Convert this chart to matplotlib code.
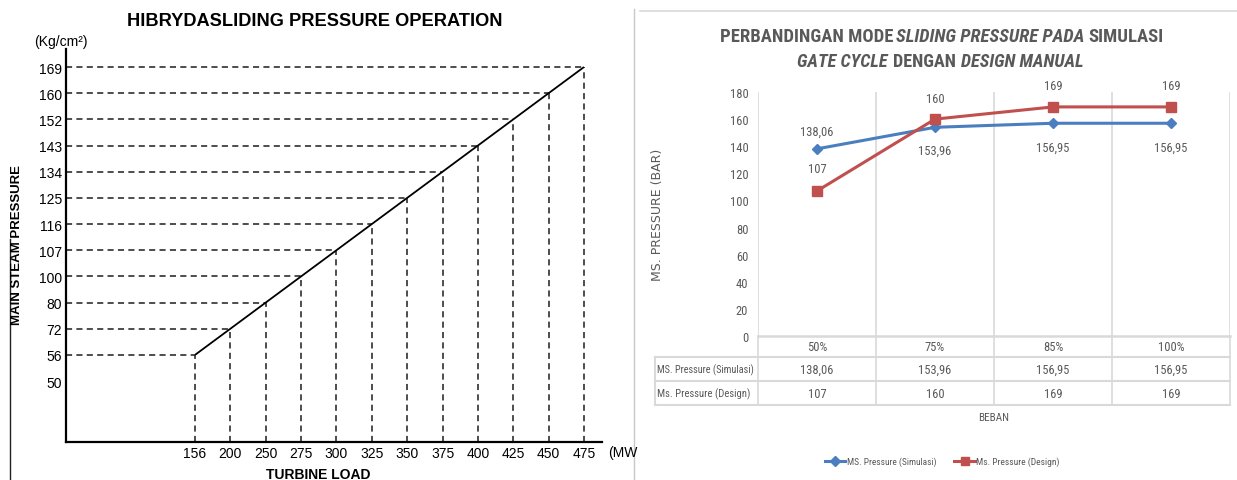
import matplotlib
matplotlib.use('Agg')
import matplotlib.pyplot as plt
from matplotlib import font_manager
from matplotlib.lines import Line2D

W, H = 1237, 481

# ---------------- data: left chart (scanned design curve) ----------------
load_ticks = [156, 200, 250, 275, 300, 325, 350, 375, 400, 425, 450, 475]
pressure_ticks = [50, 56, 72, 80, 100, 107, 116, 125, 134, 143, 152, 160, 169]
curve_load = [156, 200, 250, 275, 300, 325, 350, 375, 400, 425, 450, 475]
curve_pressure = [56, 72, 80, 100, 107, 116, 125, 134, 143, 152, 160, 169]

# ---------------- data: right chart (Excel comparison) ----------------
beban = ['50%', '75%', '85%', '100%']
ms_simulasi = [138.06, 153.96, 156.95, 156.95]
ms_design = [107, 160, 169, 169]
series_names = ['MS. Pressure (Simulasi)', 'Ms. Pressure (Design)']
y_ticks_right = [0, 20, 40, 60, 80, 100, 120, 140, 160, 180]

# ---------------- fonts ----------------
ttf = font_manager.fontManager.ttflist
names = {f.name for f in ttf}
LEFT_FONT = 'Liberation Sans' if 'Liberation Sans' in names else 'DejaVu Sans'

STRETCH_RANK = {'condensed': 0, 'extra-condensed': 1, 'semi-condensed': 2,
                'ultra-condensed': 3}
FAM_PREF = ['Liberation Sans Narrow', 'Roboto Condensed', 'Noto Sans', 'Open Sans',
            'DejaVu Sans']
cands = [f for f in ttf if f.stretch in STRETCH_RANK or 'narrow' in f.name.lower()
         or 'condensed' in f.name.lower()]
NARROW = dict(family='Liberation Sans')
if cands:
    cands.sort(key=lambda f: (FAM_PREF.index(f.name) if f.name in FAM_PREF else 99,
                              STRETCH_RANK.get(f.stretch, 0)))
    c = cands[0]
    NARROW = dict(family=c.name, stretch=c.stretch)

GRAY_TXT = '#595959'
GRID = '#d9d9d9'
BLUE = '#4a7ebf'
RED = '#c0504d'

fig = plt.figure(figsize=(W / 100, H / 100), dpi=100)
fig.patch.set_facecolor('white')
renderer = fig.canvas.get_renderer()


def px_axes(x0, y0, x1, y1, **kw):
    return fig.add_axes([x0 / W, 1 - y1 / H, (x1 - x0) / W, (y1 - y0) / H], **kw)


def fxy(x, y):
    return (x / W, 1 - y / H)


def fit_width(t, target, cap=None):
    w = t.get_window_extent(renderer).width
    size = t.get_fontsize() * target / w
    if cap is not None:
        size = min(size, cap)
    t.set_fontsize(size)


# =============== LEFT CHART ===============
axL = px_axes(66, 50, 602, 443)
x0L, x1L = -3.65, 11.51
y0L, y1L = -2.33, 12.69
axL.set_xlim(x0L, x1L)
axL.set_ylim(y0L, y1L)
xi = {v: i for i, v in enumerate(load_ticks)}
yi = {v: i for i, v in enumerate(pressure_ticks)}

for L, P in zip(curve_load, curve_pressure):
    x, y = xi[L], yi[P]
    axL.plot([x0L, x], [y, y], color='#1c1c1c', lw=1.1, dashes=(4, 2.8))
    axL.plot([x, x], [y0L, y], color='#1c1c1c', lw=1.1, dashes=(4, 2.8))
axL.plot([xi[l] for l in curve_load], [yi[p] for p in curve_pressure],
         color='black', lw=1.3, solid_capstyle='butt')

for s in ['top', 'right']:
    axL.spines[s].set_visible(False)
for s in ['left', 'bottom']:
    axL.spines[s].set_linewidth(1.6)
    axL.spines[s].set_color('black')
axL.set_xticks(range(len(load_ticks)))
axL.set_xticklabels([str(v) for v in load_ticks])
axL.set_yticks(range(len(pressure_ticks)))
axL.set_yticklabels([str(v) for v in pressure_ticks])
axL.tick_params(axis='both', length=0, labelsize=10, colors='black')
axL.tick_params(axis='y', pad=3)
axL.tick_params(axis='x', pad=3)
for lab in axL.get_xticklabels() + axL.get_yticklabels():
    lab.set_fontfamily(LEFT_FONT)

tL = fig.text(*fxy(315, 22), 'HIBRYDASLIDING PRESSURE OPERATION', ha='center', va='center',
              fontsize=12, fontweight='bold', family=LEFT_FONT)
fit_width(tL, 374)
fig.text(*fxy(61, 42), '(Kg/cm²)', ha='center', va='center', fontsize=10, family=LEFT_FONT)
fig.text(*fxy(17, 245), 'MAIN STEAM PRESSURE', ha='center', va='center', rotation=90,
         fontsize=9.5, fontweight='bold', family=LEFT_FONT)
fig.text(*fxy(318, 475), 'TURBINE LOAD', ha='center', va='center',
         fontsize=10, fontweight='bold', family=LEFT_FONT)
fig.text(*fxy(608, 453), '(MW', ha='left', va='center', fontsize=10, family=LEFT_FONT)

# scan border artifacts
fig.add_artist(Line2D([634 / W, 634 / W], [0, 1 - 10 / H], color='#c8c8c8', lw=1))
fig.add_artist(Line2D([10 / W, 10 / W], [0, 1 - 240 / H], color='#222222', lw=1))

# =============== RIGHT CHART ===============
fig.add_artist(Line2D([640 / W, 1], [1 - 12 / H, 1 - 12 / H], color=GRID, lw=1.2))


def rich_line(parts, x_left, x_right, cy, size, gap):
    texts = []
    for s, style in parts:
        t = fig.text(0, 1 - cy / H, s, fontsize=size, fontweight='bold', fontstyle=style,
                     color=GRAY_TXT, va='center', ha='left', **NARROW)
        texts.append(t)
    widths = [t.get_window_extent(renderer).width for t in texts]
    total = sum(widths) + gap * (len(texts) - 1)
    k = (x_right - x_left) / total
    for t in texts:
        t.set_fontsize(size * k)
    widths = [t.get_window_extent(renderer).width for t in texts]
    x = x_left
    for t, w in zip(texts, widths):
        t.set_position((x / W, 1 - cy / H))
        x += w + gap * k


rich_line([('PERBANDINGAN MODE', 'normal'), ('SLIDING PRESSURE PADA', 'italic'),
           ('SIMULASI', 'normal')], 720, 1162, 37, 13, 3)
rich_line([('GATE CYCLE', 'italic'), ('DENGAN', 'normal'),
           ('DESIGN MANUAL', 'italic')], 797, 1082, 62, 13, 5)

axR = px_axes(758, 93, 1230, 337)
axR.set_xlim(-0.5, len(beban) - 0.5)
axR.set_ylim(0, 180)
xs = list(range(len(beban)))
l1, = axR.plot(xs, ms_simulasi, color=BLUE, lw=2.2, marker='D', ms=5.5, zorder=3)
l2, = axR.plot(xs, ms_design, color=RED, lw=2.2, marker='s', ms=6.5, zorder=3)

NUM_SIZE = 9
fmt_sim = [f'{v:.2f}'.replace('.', ',') for v in ms_simulasi]
fmt_des = [f'{v:g}' for v in ms_design]
sim_off = [18, -23, -24, -24]
des_off = [22, 21, 21, 21]
for x, v, s, o in zip(xs, ms_simulasi, fmt_sim, sim_off):
    axR.annotate(s, (x, v), xytext=(0, o), textcoords='offset pixels', ha='center',
                 va='center', fontsize=NUM_SIZE, color=GRAY_TXT, annotation_clip=False, **NARROW)
for x, v, s, o in zip(xs, ms_design, fmt_des, des_off):
    axR.annotate(s, (x, v), xytext=(0, o), textcoords='offset pixels', ha='center',
                 va='center', fontsize=NUM_SIZE, color=GRAY_TXT, annotation_clip=False, **NARROW)

axR.set_xticks([])
axR.set_xticks([i - 0.5 for i in range(len(beban) + 1)], minor=True)
axR.grid(True, which='minor', axis='x', color=GRID, lw=1.2)
axR.tick_params(axis='x', which='both', length=0, labelbottom=False)
axR.set_yticks(y_ticks_right)
axR.tick_params(axis='y', length=0, pad=7, labelsize=NUM_SIZE, labelcolor=GRAY_TXT)
for lab in axR.get_yticklabels():
    lab.set_fontfamily(NARROW['family'])
    if 'stretch' in NARROW:
        lab.set_fontstretch(NARROW['stretch'])
for s in ['top', 'right', 'left']:
    axR.spines[s].set_visible(False)
axR.spines['bottom'].set_color(GRID)
axR.spines['bottom'].set_linewidth(1.8)

tY = fig.text(*fxy(657, 215), 'MS. PRESSURE (BAR)', rotation=90, ha='center', va='center',
              fontsize=9, color=GRAY_TXT, family='DejaVu Sans')

# data table below
axT = px_axes(655, 337, 1230, 406)
left_cat = -0.5 - (758 - 655) / 118.0
axT.set_xlim(left_cat, len(beban) - 0.5)
axT.set_ylim(69, 0)
axT.axis('off')
row_edges = [0, 21, 45, 69]
for yv in row_edges[1:]:
    axT.plot([left_cat, len(beban) - 0.5], [yv, yv], color=GRID, lw=1.5, clip_on=False)
axT.plot([left_cat, left_cat], [21, 69], color=GRID, lw=1.5, clip_on=False)
for i in range(len(beban) + 1):
    axT.plot([i - 0.5, i - 0.5], [0, 69], color=GRID, lw=1.2, clip_on=False)
rows = [beban, fmt_sim, fmt_des]
for r, vals in enumerate(rows):
    yc = (row_edges[r] + row_edges[r + 1]) / 2
    for x, s in zip(xs, vals):
        axT.text(x, yc, s, ha='center', va='center', fontsize=NUM_SIZE, color=GRAY_TXT, **NARROW)
row_targets = [98, 93]
for r, nm in enumerate(series_names):
    yc = (row_edges[r + 1] + row_edges[r + 2]) / 2
    t = axT.text(left_cat + 0.02, yc, nm, ha='left', va='center', fontsize=9,
                 color=GRAY_TXT, **NARROW)
    fit_width(t, row_targets[r], cap=9.5)

fig.text(*fxy(994, 418), 'BEBAN', ha='center', va='center', fontsize=8,
         color=GRAY_TXT, **NARROW)

# legend (manual, positioned like the Excel legend)
leg_specs = [(l1, 825, 845, 847, 89), (l2, 954, 975, 976, 83)]
for (line, hx0, hx1, tx, tw), label in zip(leg_specs, series_names):
    yl = 1 - 462 / H
    fig.add_artist(Line2D([hx0 / W, hx1 / W], [yl, yl], color=line.get_color(),
                          lw=line.get_linewidth()))
    fig.add_artist(Line2D([(hx0 + hx1) / 2 / W], [yl], color=line.get_color(),
                          marker=line.get_marker(), ms=line.get_markersize() * 0.9,
                          linestyle='none'))
    t = fig.text(tx / W, yl, label, ha='left', va='center', fontsize=9,
                 color=GRAY_TXT, **NARROW)
    fit_width(t, tw, cap=9.5)

fig.savefig('out.png', dpi=100, facecolor='white')
